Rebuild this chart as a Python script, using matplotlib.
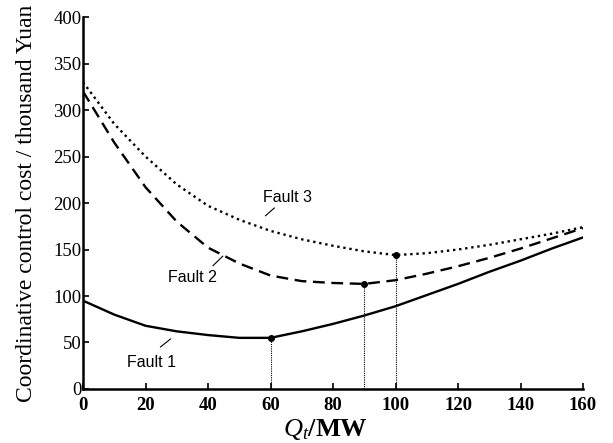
import matplotlib.pyplot as plt
import numpy as np

plt.rcParams['font.family'] = ['Liberation Serif', 'DejaVu Serif']
plt.rcParams['mathtext.fontset'] = 'custom'
plt.rcParams['mathtext.rm'] = 'Liberation Serif'
plt.rcParams['mathtext.it'] = 'Liberation Serif:italic'

# data
q = [0, 10, 20, 30, 40, 50, 60, 70, 80, 90, 100, 110, 120, 130, 140, 150, 160]
fault1 = [95, 80, 68, 62, 58, 55, 55, 62, 70, 79, 89, 101, 113, 126, 138, 151, 163]
fault2 = [320, 265, 217, 180, 152, 135, 122, 116, 114, 113, 117, 124, 132, 141, 151, 162, 173]
fault3 = [330, 285, 250, 220, 197, 182, 170, 161, 154, 148, 144, 146, 150, 155, 161, 167, 174]
opt_q = [60, 90, 100]
opt_cost = [55, 113, 144]
labels = ['Fault 1', 'Fault 2', 'Fault 3']
xticks = [0, 20, 40, 60, 80, 100, 120, 140, 160]
yticks = [0, 50, 100, 150, 200, 250, 300, 350, 400]

fig = plt.figure(figsize=(6.13, 4.43), dpi=100)
ax = fig.add_axes([0.1354, 0.1219, 0.8157, 0.8397])

ax.plot(q, fault1, color='black', lw=1.7, ls='-')
ax.plot(q, fault2, color='black', lw=1.7, ls=(0, (5, 2.8)))
ax.plot(q, fault3, color='black', lw=1.7, ls=(0, (1, 1.6)))

# minimum points and drop lines
for xq, yc in zip(opt_q, opt_cost):
    ax.plot([xq, xq], [0, yc], color='black', lw=0.8, ls=(0, (1, 1)))
ax.plot(opt_q, opt_cost, 'o', color='black', ms=4)

# curve labels with short pointer lines
ann = [((22, 28), (24.8, 45.2), (28, 53.8)),
       ((35, 120), (41.6, 132.6), (44.7, 142.8)),
       ((65.3, 206), (58.4, 186.3), (61.2, 194.6))]
for lab, (txt, p0, p1) in zip(labels, ann):
    ax.text(txt[0], txt[1], lab, family=['Liberation Sans', 'DejaVu Sans'],
            fontsize=11.5, ha='center', va='center')
    ax.plot([p0[0], p1[0]], [p0[1], p1[1]], color='black', lw=0.8)

ax.set_xlim(0, 160)
ax.set_ylim(0, 400)
ax.set_xticks(xticks)
ax.set_yticks(yticks)
ax.spines['top'].set_visible(False)
ax.spines['right'].set_visible(False)
ax.spines['left'].set_linewidth(1.8)
ax.spines['bottom'].set_linewidth(1.8)
ax.tick_params(direction='in', length=4, width=1.2, labelsize=13.5)
ax.tick_params(axis='y', pad=1)
ax.tick_params(axis='x', pad=6)
for t in ax.get_xticklabels():
    t.set_fontweight('bold')

ax.set_xlabel('$Q_t$/MW', fontsize=19, fontweight='bold', labelpad=0)
ax.xaxis.set_label_coords(0.484, -0.075, transform=ax.transAxes)
ax.xaxis.label.set_va('top')
ax.set_ylabel('Coordinative control cost / thousand Yuan', fontsize=17, labelpad=12)

fig.savefig('out.png', dpi=100)
